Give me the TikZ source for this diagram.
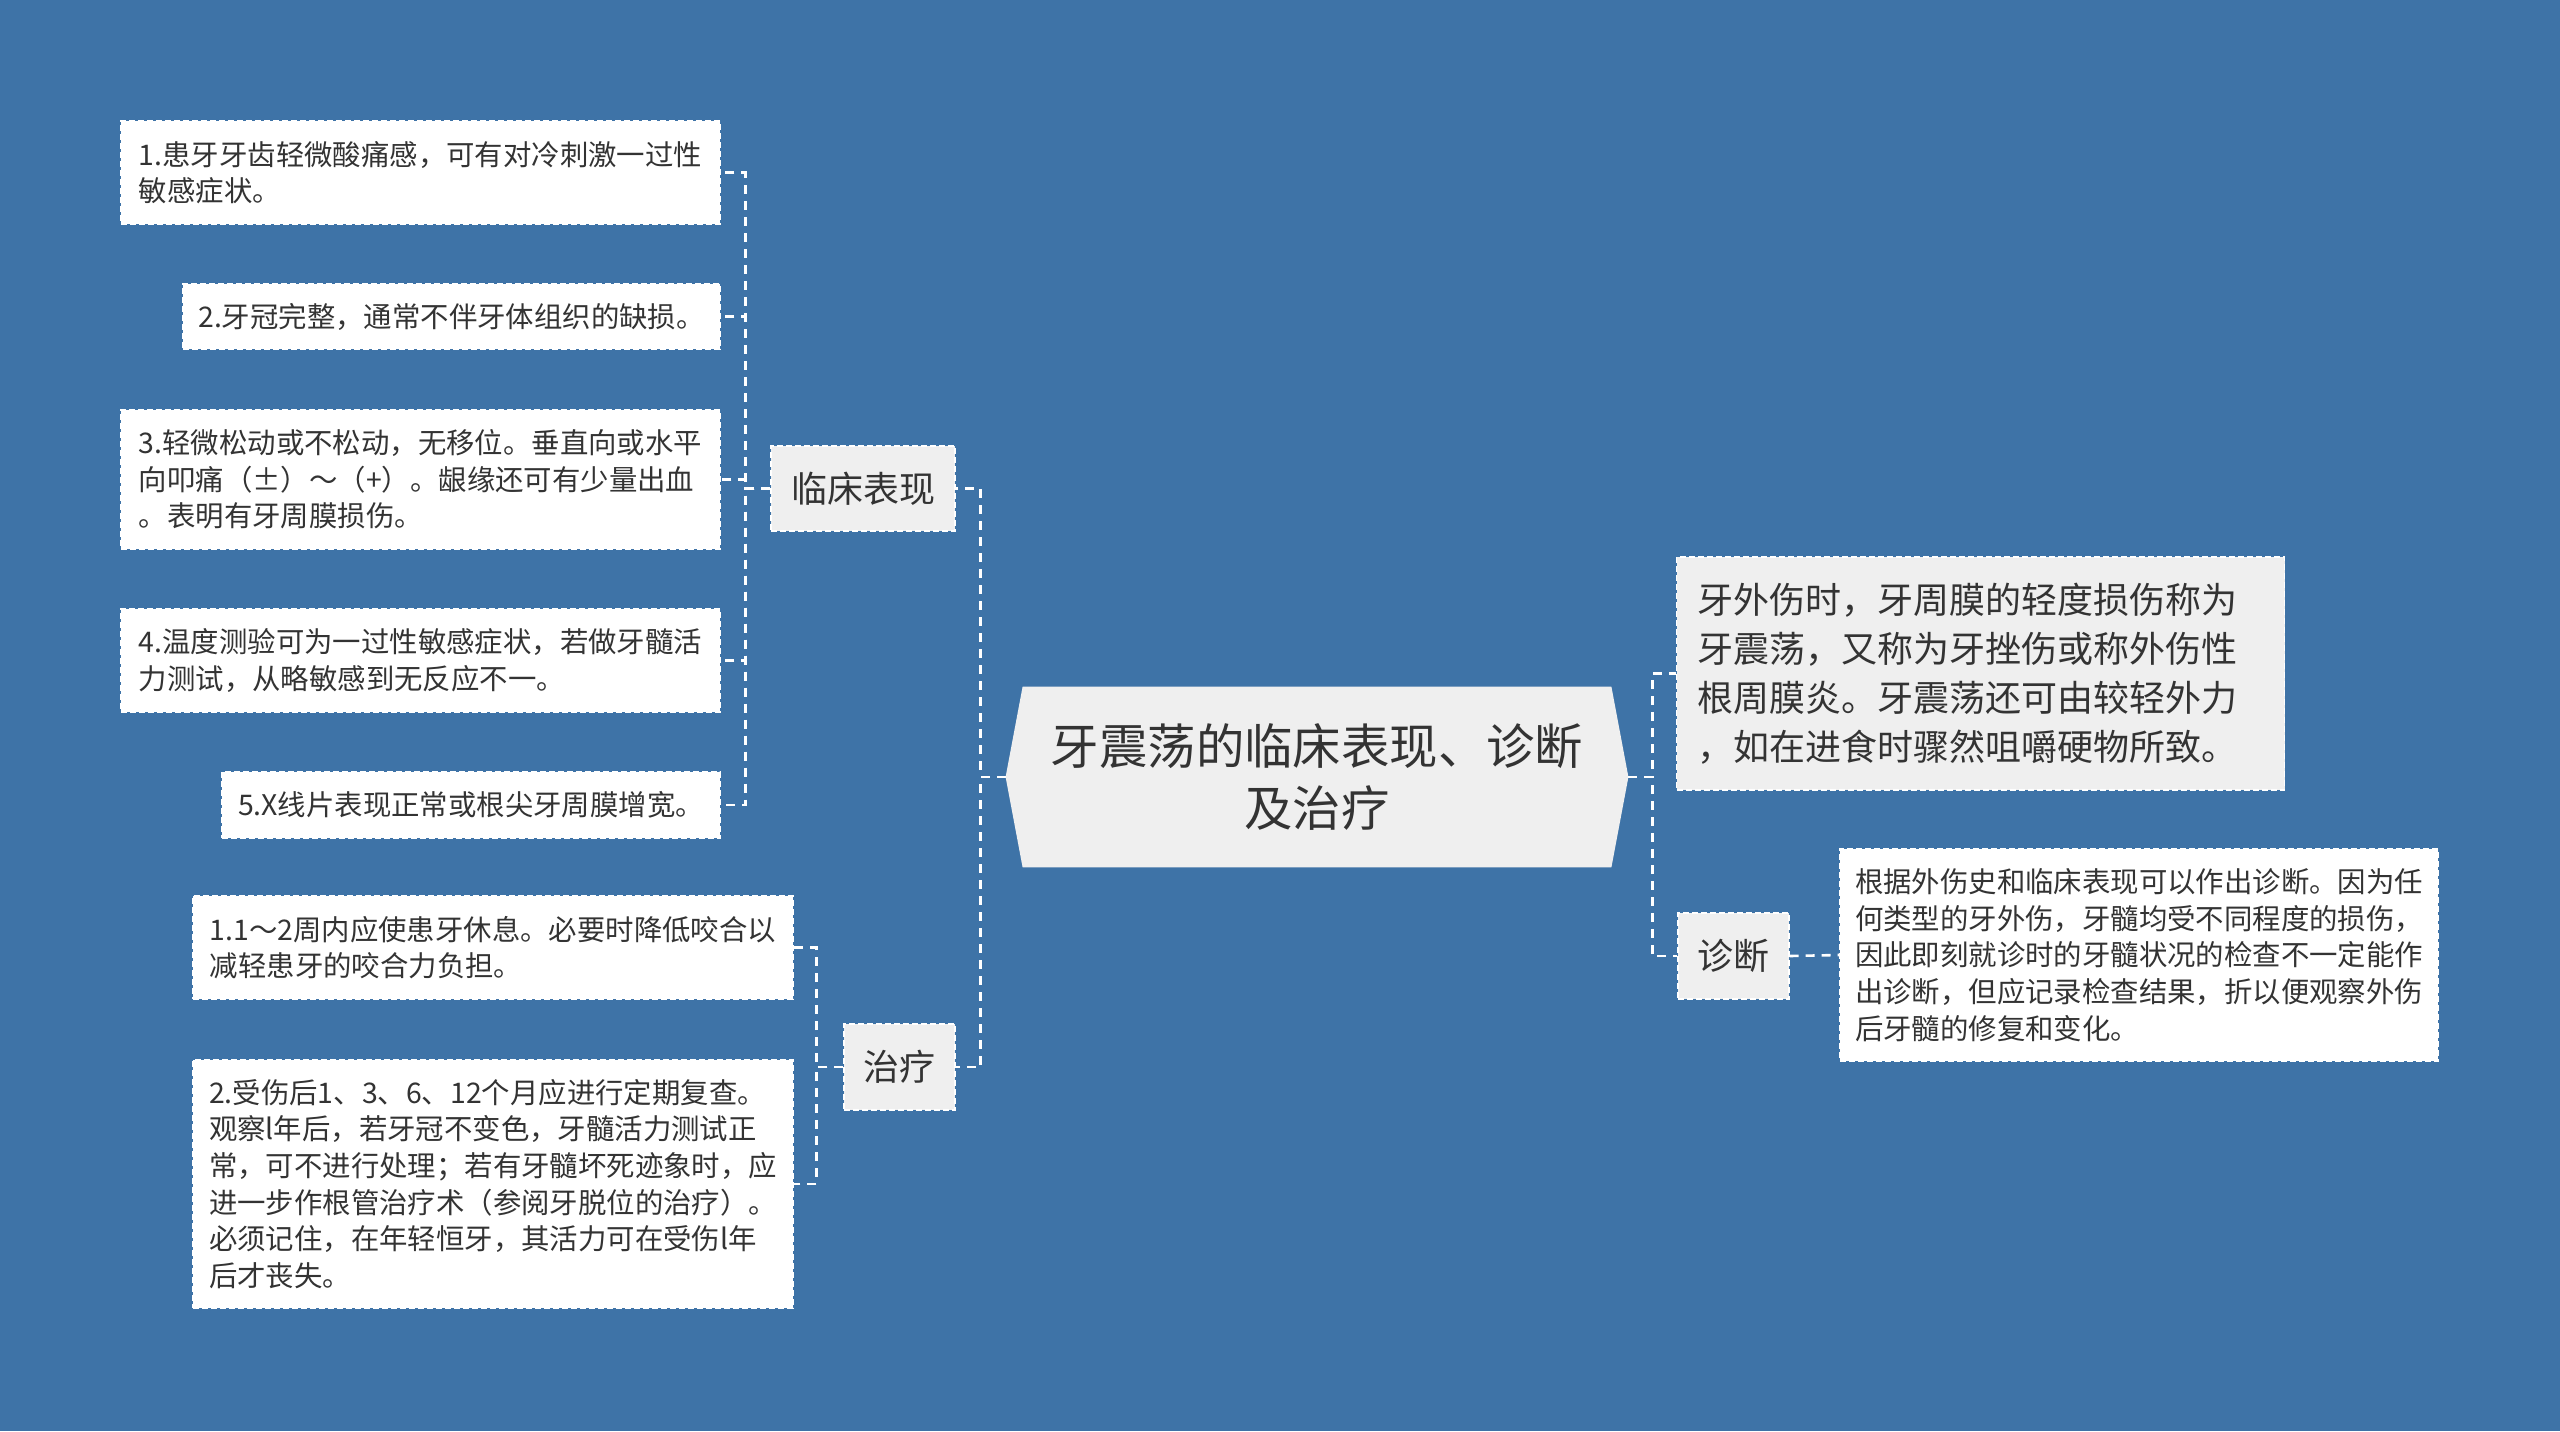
\documentclass[tikz,border=0pt]{standalone}
\usepackage{fontspec}
\setmainfont{Noto Sans CJK SC}
\definecolor{bg}{RGB}{62,115,167}
\definecolor{boxgray}{RGB}{239,239,239}
\definecolor{txt}{RGB}{51,51,51}
\begin{document}
\begin{tikzpicture}[x=0.5pt,y=-0.5pt,
  conn/.style={draw=white,line width=1.3pt,dash pattern=on 4.5pt off 3.5pt},
  leaf/.style={draw=white,line width=0.7pt,dash pattern=on 3pt off 1.5pt,fill=white,
    text=txt,align=left,inner sep=0pt,font=\fontsize{14.2pt}{18.3pt}\selectfont},
  topic/.style={draw=white,line width=0.7pt,dash pattern=on 3pt off 1.5pt,fill=boxgray,
    text=txt,align=left,inner sep=0pt,font=\fontsize{18pt}{24.5pt}\selectfont},
  rootnode/.style={text=txt,align=center,inner sep=0pt,font=\fontsize{24.2pt}{31pt}\selectfont}]
\fill[bg] (0,0) rectangle (2560,1431);
\useasboundingbox (0,0) rectangle (2560,1431);

% root
\node[rootnode,minimum width=311pt,minimum height=90pt] (C) at (1317,777) {};
\fill[boxgray] (C.west) -- ([xshift=8.5pt]C.north west) -- ([xshift=-8.5pt]C.north east)
  -- (C.east) -- ([xshift=-8.5pt]C.south east) -- ([xshift=8.5pt]C.south west) -- cycle;
\node[rootnode] (Ctext) at (C.center) {牙震荡的临床表现、诊断\\及治疗};

% level 1
\node[topic,minimum width=92pt,minimum height=42.5pt] (N1) at (863,488.5) {临床表现};
\node[topic,minimum width=55.5pt,minimum height=43pt] (N2) at (899.5,1067) {治疗};
\node[topic,minimum width=55.5pt,minimum height=43pt] (N3) at (1733.5,956) {诊断};
\node[topic,text width=283pt,inner xsep=10.5pt,minimum height=116.5pt] (RT) at (1980.5,673.5)
  {牙外伤时，牙周膜的轻度损伤称为\\牙震荡，又称为牙挫伤或称外伤性\\根周膜炎。牙震荡还可由较轻外力\\，如在进食时骤然咀嚼硬物所致。};

% leaves
\node[leaf,minimum width=299.5pt,minimum height=51.5pt] (L1) at (420.5,172.5)
  {1.患牙牙齿轻微酸痛感，可有对冷刺激一过性\\敏感症状。};
\node[leaf,minimum width=268.5pt,minimum height=32.5pt] (L2) at (451.5,316.5)
  {2.牙冠完整，通常不伴牙体组织的缺损。};
\node[leaf,minimum width=299.5pt,minimum height=69.5pt] (L3) at (420.5,479.5)
  {3.轻微松动或不松动，无移位。垂直向或水平\\向叩痛（±）～（+）。龈缘还可有少量出血\\。表明有牙周膜损伤。};
\node[leaf,minimum width=299.5pt,minimum height=51.5pt] (L4) at (420.5,660.5)
  {4.温度测验可为一过性敏感症状，若做牙髓活\\力测试，从略敏感到无反应不一。};
\node[leaf,minimum width=249pt,minimum height=33pt] (L5) at (471,805)
  {5.X线片表现正常或根尖牙周膜增宽。};
\node[leaf,minimum width=300pt,minimum height=51.5pt] (T1) at (493,947.5)
  {1.1～2周内应使患牙休息。必要时降低咬合以\\减轻患牙的咬合力负担。};
\node[leaf,minimum width=300pt,minimum height=124pt] (T2) at (493,1184)
  {2.受伤后1、3、6、12个月应进行定期复查。\\观察l年后，若牙冠不变色，牙髓活力测试正\\常，可不进行处理；若有牙髓坏死迹象时，应\\进一步作根管治疗术（参阅牙脱位的治疗）。\\必须记住，在年轻恒牙，其活力可在受伤l年\\后才丧失。};
\node[leaf,minimum width=299pt,minimum height=106pt] (D1) at (2139,955)
  {根据外伤史和临床表现可以作出诊断。因为任\\何类型的牙外伤，牙髓均受不同程度的损伤，\\因此即刻就诊时的牙髓状况的检查不一定能作\\出诊断，但应记录检查结果，折以便观察外伤\\后牙髓的修复和变化。};

% connectors
\draw[conn] (C.west) -- ++(-25,0) |- (N1.east);
\draw[conn] (C.west) -- ++(-25,0) |- (N2.east);
\draw[conn] (C.east) -- ++(24,0) |- (RT.west);
\draw[conn] (C.east) -- ++(24,0) |- (N3.west);
\draw[conn] (N3.east) -- (D1.west);
\foreach \n in {L1,L2,L3,L4,L5}
  \draw[conn] (N1.west) -- ++(-25,0) |- (\n.east);
\foreach \n in {T1,T2}
  \draw[conn] (N2.west) -- ++(-27,0) |- (\n.east);
\end{tikzpicture}
\end{document}
